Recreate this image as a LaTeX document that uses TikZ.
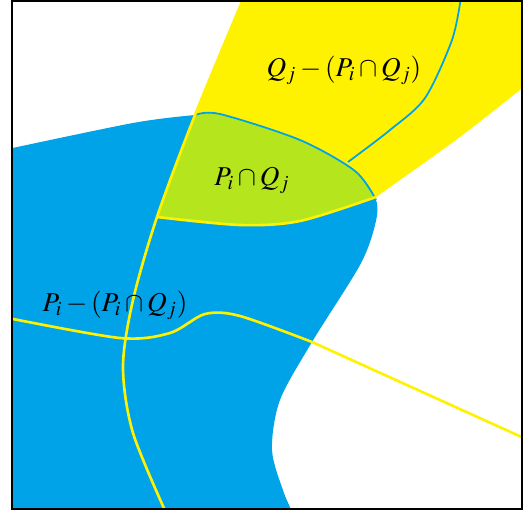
\documentclass[tikz,border=0pt]{standalone}
\usepackage{mathptmx}
\definecolor{pblue}{RGB}{0,162,232}
\definecolor{qyellow}{RGB}{255,242,0}
\definecolor{pqgreen}{RGB}{181,230,29}
% region P_i (blue) and region Q_j (yellow)
\newcommand{\regionP}{plot[smooth] coordinates {(8,149) (133,123) (195,115) (220,114) (300,140) (355,171) (376,200) (375,225) (360,265) (312,342) (280,400) (272,450) (284,493) (294,515)} -- (0,515) -- (0,149) -- cycle}
\newcommand{\regionQ}{plot[smooth] coordinates {(244,-3) (195,115) (157,217)} -- plot[smooth] coordinates {(157,217) (240,225) (300,221) (376,197)} -- plot[smooth] coordinates {(376,197) (460,137) (526,85)} -- (526,-3) -- cycle}
\begin{document}
\begin{tikzpicture}[x=0.02cm,y=-0.02cm,
    yline/.style={qyellow,line width=1.5pt},
    bline/.style={pblue,line width=1pt},
    lbl/.style={font=\fontsize{15.5}{18}\selectfont,inner sep=0pt}]
  \useasboundingbox (0,0) rectangle (523,513);
  \begin{scope}
    \clip (12,1) rectangle (522,509);
    % regions
    \fill[qyellow] \regionQ;
    \fill[pblue] \regionP;
    % intersection
    \begin{scope}
      \clip \regionQ;
      \fill[pqgreen] \regionP;
    \end{scope}
    % top edge of the intersection
    \draw[bline] plot[smooth] coordinates {(195,115) (220,114) (300,140) (355,171) (376,200)};
    % blue line through Q_j
    \draw[bline] plot[smooth] coordinates {(461,-3) (452,40) (425,98) (390,130) (348,162)};
    % yellow lines
    \draw[yline] plot[smooth] coordinates {(244,-3) (195,115) (157,217) (133,300) (123,367) (133,433) (167,515)};
    \draw[yline] plot[smooth] coordinates {(157,217) (240,225) (300,221) (376,197)};
    \draw[yline] plot[smooth] coordinates {(8,318) (120,338) (170,333) (205,314) (240,316) (312,342)} -- (526,439);
  \end{scope}
  % frame
  \draw[line width=1.2pt] (12,1) rectangle (522,509);
  % labels
  \node[lbl] (qlbl) at (344,70) {$Q_j - (P_i \cap Q_j)$};
  \node[lbl] (pqlbl) at (252,180) {$P_i \cap Q_j$};
  \node[lbl] (plbl) at (115,305) {$P_i - (P_i \cap Q_j)$};
\end{tikzpicture}
\end{document}
